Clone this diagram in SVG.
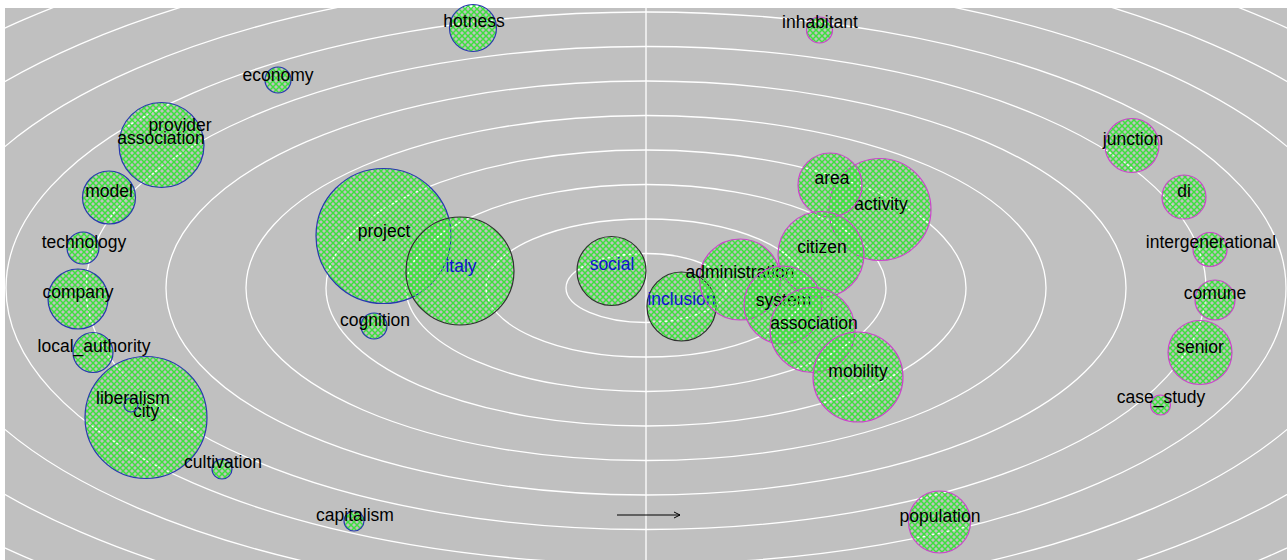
<svg xmlns="http://www.w3.org/2000/svg" width="1287" height="560" viewBox="0 0 1287 560">
<style>
.ring{fill:none;stroke:#ffffff;stroke-width:1.3}
.n{fill:url(#hatch);stroke-width:1.2}
.b{stroke:#2838b0}
.k{stroke:#303030}
.m{stroke:#cc44cc}
text{font-family:"Liberation Sans",Arial,sans-serif;font-size:17.5px;text-anchor:middle;fill:#000}
text.blue{fill:#1010d0}
</style>
<defs>
<pattern id="hatch" width="6" height="6" patternUnits="userSpaceOnUse">
<path d="M0,0 L6,6 M6,0 L0,6" stroke="#3ee03e" stroke-width="1.5" fill="none"/>
</pattern>
<clipPath id="area"><rect x="5" y="8" width="1282" height="552"/></clipPath>
<marker id="arr" markerWidth="8" markerHeight="8" refX="7" refY="4" orient="auto" markerUnits="userSpaceOnUse">
<path d="M1,1 L7,4 L1,7" fill="none" stroke="#000" stroke-width="1"/>
</marker>
</defs>
<rect width="1287" height="560" fill="#ffffff"/>
<g id="background" clip-path="url(#area)">
<rect x="5" y="8" width="1282" height="552" fill="#c0c0c0"/>
<ellipse class="ring" cx="646" cy="288" rx="80" ry="34.5"/>
<ellipse class="ring" cx="646" cy="288" rx="160" ry="69"/>
<ellipse class="ring" cx="646" cy="288" rx="240" ry="103.5"/>
<ellipse class="ring" cx="646" cy="288" rx="320" ry="138"/>
<ellipse class="ring" cx="646" cy="288" rx="400" ry="172.5"/>
<ellipse class="ring" cx="646" cy="288" rx="480" ry="207"/>
<ellipse class="ring" cx="646" cy="288" rx="560" ry="241.5"/>
<ellipse class="ring" cx="646" cy="288" rx="640" ry="276"/>
<ellipse class="ring" cx="646" cy="288" rx="720" ry="310.5"/>
<ellipse class="ring" cx="646" cy="288" rx="800" ry="345"/>
<ellipse class="ring" cx="646" cy="288" rx="880" ry="379.5"/>
<ellipse class="ring" cx="646" cy="288" rx="960" ry="414"/>
<line x1="646" y1="8" x2="646" y2="560" stroke="#ffffff" stroke-width="1.3"/>
</g>
<g id="connectors">
<line x1="617" y1="515" x2="680" y2="515" stroke="#000" stroke-width="1" marker-end="url(#arr)"/>
</g>
<g id="node-hotness"><circle class="n b" cx="473" cy="28" r="23.5"/><text x="474" y="27">hotness</text></g>
<g id="node-economy"><circle class="n b" cx="278" cy="80" r="13"/><text x="278" y="81">economy</text></g>
<g id="node-association-left"><circle class="n b" cx="161.5" cy="145" r="42.5"/><text x="161" y="144">association</text></g>
<g id="node-provider"><text x="180" y="131">provider</text></g>
<g id="node-model"><circle class="n b" cx="109" cy="197.5" r="26.5"/><text x="109" y="197">model</text></g>
<g id="node-technology"><circle class="n b" cx="83" cy="248" r="16"/><text x="84" y="248">technology</text></g>
<g id="node-company"><circle class="n b" cx="78" cy="299" r="30"/><text x="78" y="298">company</text></g>
<g id="node-local_authority"><circle class="n b" cx="93" cy="352.5" r="20"/><text x="94" y="352">local_authority</text></g>
<g id="node-city"><circle class="n b" cx="146" cy="417.5" r="61"/><text x="146" y="417">city</text></g>
<g id="node-liberalism"><circle class="n b" cx="131" cy="405" r="7"/><text x="133" y="404">liberalism</text></g>
<g id="node-cultivation"><circle class="n b" cx="222" cy="469" r="10"/><text x="223" y="468">cultivation</text></g>
<g id="node-capitalism"><circle class="n b" cx="354" cy="521" r="10"/><text x="355" y="521">capitalism</text></g>
<g id="node-cognition"><circle class="n b" cx="374" cy="326" r="13"/><text x="375" y="326">cognition</text></g>
<g id="node-project"><circle class="n b" cx="383.5" cy="236" r="67.5"/><text x="384" y="237">project</text></g>
<g id="node-italy"><circle class="n k" cx="460" cy="271" r="54"/><text class="blue" x="461" y="272">italy</text></g>
<g id="node-social"><circle class="n k" cx="611.5" cy="271" r="34.5"/><text class="blue" x="612" y="270">social</text></g>
<g id="node-inclusion"><circle class="n k" cx="681.5" cy="306.5" r="34.5"/><text class="blue" x="681.5" y="305">inclusion</text></g>
<g id="node-activity"><circle class="n m" cx="880" cy="209.5" r="51"/><text x="881" y="210">activity</text></g>
<g id="node-area"><circle class="n m" cx="830" cy="185" r="32"/><text x="832" y="184">area</text></g>
<g id="node-citizen"><circle class="n m" cx="821" cy="254.5" r="43"/><text x="822" y="253">citizen</text></g>
<g id="node-administration"><circle class="n m" cx="740" cy="279.5" r="40.5"/><text x="740" y="278">administration</text></g>
<g id="node-system"><circle class="n m" cx="783" cy="305" r="39"/><text x="783.5" y="306">system</text></g>
<g id="node-association-right"><circle class="n m" cx="812.5" cy="330" r="42.5"/><text x="814" y="329">association</text></g>
<g id="node-mobility"><circle class="n m" cx="858" cy="377" r="45"/><text x="858" y="377">mobility</text></g>
<g id="node-inhabitant"><circle class="n m" cx="819.5" cy="30" r="13"/><text x="820" y="28">inhabitant</text></g>
<g id="node-population"><circle class="n m" cx="939.5" cy="522" r="31"/><text x="940" y="522">population</text></g>
<g id="node-junction"><circle class="n m" cx="1132" cy="145.5" r="27"/><text x="1133" y="145">junction</text></g>
<g id="node-di"><circle class="n m" cx="1184" cy="197" r="22"/><text x="1184" y="197">di</text></g>
<g id="node-intergenerational"><circle class="n m" cx="1210" cy="249.5" r="17"/><text x="1211" y="248">intergenerational</text></g>
<g id="node-comune"><circle class="n m" cx="1215" cy="300" r="20"/><text x="1215" y="299">comune</text></g>
<g id="node-senior"><circle class="n m" cx="1200" cy="352.5" r="32"/><text x="1200" y="353">senior</text></g>
<g id="node-case_study"><circle class="n m" cx="1160.5" cy="405" r="10"/><text x="1161" y="403">case_study</text></g>
</svg>
